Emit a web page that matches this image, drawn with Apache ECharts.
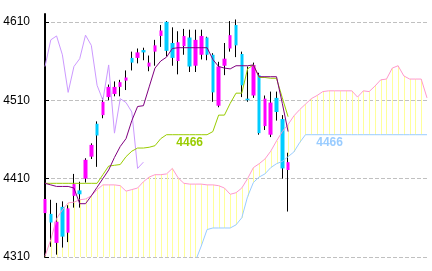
<!DOCTYPE html>
<html>
<head>
<meta charset="utf-8">
<script src="https://cdn.jsdelivr.net/npm/echarts@6.0.0/dist/echarts.min.js"></script>
<style>
html,body{margin:0;padding:0;background:#fff;}
#chart{width:432px;height:271px;}
</style>
</head>
<body>
<div id="chart"></div>
<script>
// ---- data ----
const periodCount = 67; // candles + 24 forward periods shown
const categories = Array.from({length: periodCount}, (_, i) => String(i));

const candleOpen  = [4366,4365,4328,4374,4341,4388,4395,4410,4438,4480,4491,4514,4518,4527,4535,4564,4564,4574,4553,4572,4592,4610,4583,4560,4579,4590,4554,4568,4590,4568,4503,4554,4576,4606,4569,4512,4516,4542,4477,4466,4513,4486,4421];
const candleClose = [4384,4354,4355,4336,4372,4403,4390,4434,4453,4465,4508,4527,4527,4533,4539,4558,4571,4571,4558,4580,4599,4573,4564,4584,4592,4553,4587,4592,4568,4520,4553,4563,4593,4580,4529,4510,4555,4468,4512,4507,4495,4423,4431];
const candleLow   = [4362,4323,4313,4322,4329,4373,4373,4405,4435,4425,4487,4510,4515,4515,4523,4548,4557,4561,4547,4554,4578,4566,4554,4543,4568,4546,4546,4562,4561,4508,4501,4542,4572,4565,4514,4508,4513,4466,4472,4463,4484,4410,4368];
const candleHigh  = [4388,4383,4379,4381,4376,4416,4406,4436,4455,4483,4513,4530,4534,4536,4548,4572,4576,4577,4567,4587,4606,4611,4603,4598,4601,4600,4600,4600,4591,4570,4559,4583,4611,4613,4572,4553,4558,4545,4516,4521,4521,4491,4443];

const conversionLine = [4404,4402,4400,4400,4400,4398,4378,4378,4388,4399,4410,4421,4437,4451,4461,4484,4502,4503,4527,4551,4560,4565,4576,4577,4577,4577,4577,4577,4577,4562,4553,4551,4550,4554,4554,4554,4555,4540,4540,4540,4540,4506,4470];
const baseLine = [4404,4404,4404,4404,4404,4404,4404,4404,4404,4404,4415,4426,4427,4428,4438,4445,4449,4449,4450,4452,4461,4466,4466,4466,4466,4466,4466,4466,4466,4470,4491,4491,4506,4519,4519,4550,4555,4539,4539,4538,4538,4513,4489];
const laggingSpan = [4553,4587,4592,4568,4520,4553,4563,4593,4580,4529,4510,4555,4468,4512,4507,4495,4423,4431];
const leadingSpanA = [4311,4332,4359,4370,4379,4380,4383,4384,4388,4396,4402,4402,4402,4401,4394,4396,4398,4406,4412,4415,4415,4416,4423,4411,4404,4403,4403,4403,4402,4402,4401,4398,4390,4392,4398,4410,4424,4429,4435,4445,4458,4470,4479,4490,4498,4505,4512,4516,4521,4522,4522,4522,4522,4522,4514,4522,4521,4528,4536,4537,4551,4554,4541,4537,4537,4537,4513];
const leadingSpanB = [null,null,null,null,null,null,null,null,null,null,null,null,null,null,null,null,null,null,null,null,null,null,null,null,null,null,4305,4324,4345,4347,4347,4347,4347,4351,4360,4387,4405,4412,4416,4424,4429,4432,4438,4444,4456,4466,4466,4466,4466,4466,4466,4466,4466,4466,4466,4466,4466,4466,4466,4466,4466,4466,4466,4466,4466,4466,4466];

const yTicks = [4310, 4410, 4510, 4610];
const baseLabelText = '4466';
const spanBLabelText = '4466';

// ---- build ----
const wickData = candleOpen.map((o, i) => [o, candleClose[i], candleLow[i], candleHigh[i]]);
const bodyData = candleOpen.map((o, i) => [o, candleClose[i], Math.min(o, candleClose[i]), Math.max(o, candleClose[i])]);
const cloudData = leadingSpanA.map((a, i) => [i, a, leadingSpanB[i]]);

const chart = echarts.init(document.getElementById('chart'), null, {renderer: 'canvas'});
chart.setOption({
  animation: false,
  backgroundColor: '#ffffff',
  grid: {left: 45, right: 5, top: 14, bottom: 14, containLabel: false},
  xAxis: {
    type: 'category', data: categories, boundaryGap: false, show: false
  },
  yAxis: {
    type: 'value', min: 4310, max: 4620, interval: 100,
    axisLine: {show: true, lineStyle: {color: '#000', width: 2}},
    axisTick: {show: true, inside: true, length: 4, lineStyle: {color: '#000', width: 1}, customValues: yTicks},
    axisLabel: {
      show: true, margin: 15, color: '#000', fontSize: 12,
      fontFamily: "'Liberation Sans Narrow', 'Liberation Sans', sans-serif",
      customValues: yTicks,
      formatter: function (v) { return String(v); }
    },
    splitLine: {show: true, lineStyle: {color: '#c0c0c0', width: 1, type: [4, 2]}}
  },
  series: [
    {
      name: 'cloud', type: 'custom', clip: true, z: 1,
      data: cloudData,
      renderItem: function (params, api) {
        const i = api.value(0);
        const pa = api.coord([i, api.value(1)]);
        const bv = api.value(2);
        let yb;
        if (bv == null || isNaN(bv)) {
          yb = params.coordSys.y + params.coordSys.height;
        } else {
          yb = api.coord([i, bv])[1];
        }
        const px = Math.round(pa[0]) + 0.5;
        return {type: 'line', shape: {x1: px, y1: pa[1], x2: px, y2: yb},
                style: {stroke: '#ffff99', lineWidth: 1}};
      }
    },
    {
      name: 'wick', type: 'candlestick', z: 2, barWidth: 1,
      data: wickData,
      itemStyle: {color: '#000', color0: '#000', borderColor: '#000', borderColor0: '#000', borderWidth: 1}
    },
    {
      name: 'body', type: 'candlestick', z: 3, barWidth: 4,
      data: bodyData,
      itemStyle: {color: '#ff00ff', color0: '#00ccff', borderColor: '#ff00ff', borderColor0: '#00ccff', borderWidth: 0}
    },
    {
      name: 'spanA', type: 'line', z: 4, data: leadingSpanA, symbol: 'none',
      lineStyle: {color: '#ff99cc', width: 1}
    },
    {
      name: 'spanB', type: 'line', z: 4, data: leadingSpanB, symbol: 'none',
      lineStyle: {color: '#99ccff', width: 1},
      markPoint: {
        symbol: 'circle', symbolSize: 0,
        data: [{coord: [49, 4466], value: spanBLabelText}],
        label: {show: true, position: 'inside', offset: [1, 8], formatter: spanBLabelText,
                color: '#99ccff', fontSize: 12, fontWeight: 'bold', fontFamily: "'Liberation Sans', sans-serif"}
      }
    },
    {
      name: 'lagging', type: 'line', z: 5, data: laggingSpan, symbol: 'none',
      lineStyle: {color: '#cc99ff', width: 1}
    },
    {
      name: 'base', type: 'line', z: 5, data: baseLine, symbol: 'none',
      lineStyle: {color: '#99cc00', width: 1},
      markPoint: {
        symbol: 'circle', symbolSize: 0,
        data: [{coord: [25, 4466], value: baseLabelText}],
        label: {show: true, position: 'inside', offset: [0, 8], formatter: baseLabelText,
                color: '#99cc00', fontSize: 12, fontWeight: 'bold', fontFamily: "'Liberation Sans', sans-serif"}
      }
    },
    {
      name: 'conversion', type: 'line', z: 6, data: conversionLine, symbol: 'none',
      lineStyle: {color: '#800080', width: 1}
    }
  ]
});
</script>
</body>
</html>
